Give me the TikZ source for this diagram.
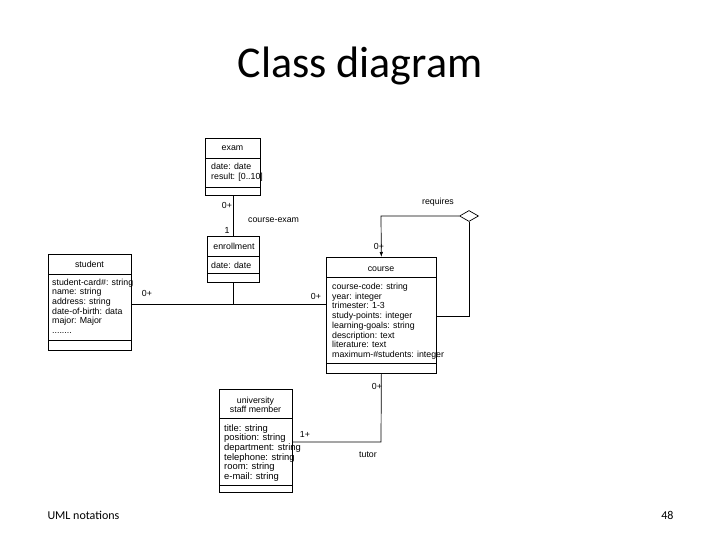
\documentclass[tikz,border=0pt]{standalone}
\usepackage{fontspec}
\setmainfont{Carlito}
\newfontfamily\umlfont{Liberation Sans}
\usetikzlibrary{shapes.geometric,arrows.meta}
\tikzset{
  cls/.style={draw, line width=0.7pt, inner sep=0pt, anchor=north west},
  lbl/.style={font=\umlfont\fontsize{8.8}{9.7}\selectfont, inner sep=0pt},
  attr/.style={font=\umlfont\fontsize{8.8}{9.7}\selectfont, inner sep=0pt, anchor=north west, align=left},
  conn/.style={line width=0.7pt},
}
\begin{document}
\begin{tikzpicture}[x=1pt,y=-1pt]
\useasboundingbox[fill=white] (0,0) rectangle (720,540);
\node[font=\fontsize{44}{50}\selectfont] (title) at (360,66) {Class diagram};
\node[font=\fontsize{12}{14}\selectfont, anchor=west] (foot) at (44,515) {UML notations};
\node[font=\fontsize{12}{14}\selectfont, anchor=east] (page) at (677,515) {48};

% exam
\node[cls, minimum width=55pt, minimum height=57pt] (exam) at (205,138) {};
\draw[conn] (205,158) -- (260,158);
\draw[conn] (205,187) -- (260,187);
\node[lbl] (examt) at (232.5,148) {exam};
\node[attr] (exama) at (211,163) {date: date\\result: [0..10]};

% enrollment
\node[cls, minimum width=52pt, minimum height=46pt] (enroll) at (207,236) {};
\draw[conn] (207,256) -- (259,256);
\draw[conn] (207,273) -- (259,273);
\node[lbl] (enrollt) at (234,246) {enrollment};
\node[attr] (enrolla) at (211,261.5) {date: date};

% student
\node[cls, minimum width=83pt, minimum height=96pt] (student) at (48,254) {};
\draw[conn] (48,274) -- (131,274);
\draw[conn] (48,340) -- (131,340);
\node[lbl] (studentt) at (89.5,264) {student};
\node[attr] (studenta) at (52,278.5) {student-card\#: string\\name: string\\address: string\\date-of-birth: data\\major: Major\\........};

% course
\node[cls, minimum width=110pt, minimum height=116pt] (course) at (326,257) {};
\draw[conn] (326,277) -- (436,277);
\draw[conn] (326,363) -- (436,363);
\node[lbl] (courset) at (381,269) {course};
\node[attr] (coursea) at (332,283) {course-code: string\\year: integer\\trimester: 1-3\\study-points: integer\\learning-goals: string\\description: text\\literature: text\\maximum-\#students: integer};

% staff
\node[cls, minimum width=73pt, minimum height=103pt] (staff) at (219,389) {};
\draw[conn] (219,418) -- (292,418);
\draw[conn] (219,485) -- (292,485);
\node[lbl, align=center] (stafft) at (255.5,405) {university\\staff member};
\node[attr, font=\umlfont\fontsize{9.4}{9.7}\selectfont] (staffa) at (224,424) {title: string\\position: string\\department: string\\telephone: string\\room: string\\e-mail: string};

% exam - enrollment
\draw[conn] (exam.south -| 233,0) -- (enroll.north -| 233,0);
\node[lbl] (m1) at (227,205) {0+};
\node[lbl] (m2) at (227,230) {1};
\node[lbl, anchor=west] (ce) at (248,220) {course-exam};

% student - course
\coordinate (jn) at (233,304);
\draw[conn] (student.east |- jn) -- (course.west |- jn);
\draw[conn] (enroll.south -| jn) -- (jn);
\node[lbl] (m3) at (147,293) {0+};
\node[lbl] (m4) at (316,296) {0+};
\node[lbl] (m5) at (379,246) {0+};

% requires
\node[draw, diamond, line width=0.7pt, minimum width=19pt, minimum height=11pt, inner sep=0pt] (dia) at (469,216) {};
\coordinate (rq1) at (469,316);
\coordinate (rq2) at (381,216);
\draw[conn] (course.east |- rq1) -- (rq1) -- (dia.south);
\draw[conn, -{Latex[length=5pt,width=3.5pt]}] (dia.west) -- (rq2) -- (course.north);
\node[lbl] (req) at (438,202) {requires};

% tutor
\coordinate (tu) at (381,442);
\draw[conn] (staff.east |- tu) -- (tu) -- (course.south);
\node[lbl] (m6) at (305,434) {1+};
\node[lbl] (m7) at (377,386) {0+};
\node[lbl] (tut) at (368,455) {tutor};
\end{tikzpicture}
\end{document}
